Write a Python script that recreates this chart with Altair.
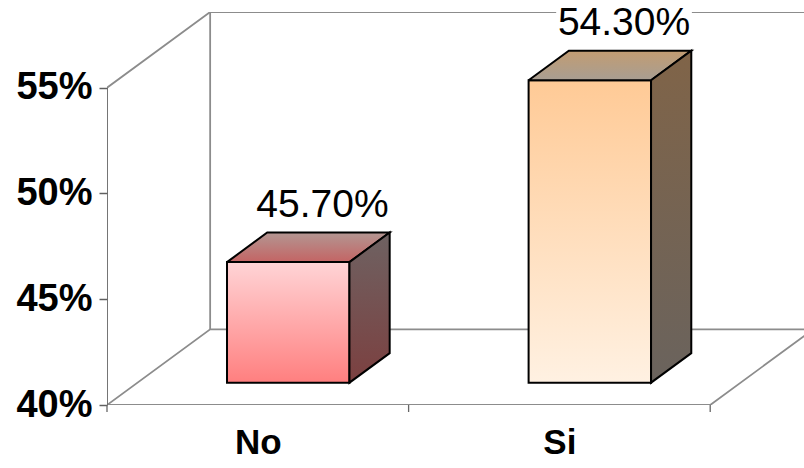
import json
import altair as alt
import pandas as pd

# ---- values ---------------------------------------------------------------
categories = ["No", "Si"]
values = [45.7, 54.3]
value_labels = ["45.70%", "54.30%"]
y_ticks = [40, 45, 50, 55]

# ---- styling ---------------------------------------------------------------
FONT = "Liberation Sans"
face_colors = {
    "No": {"front": ("#FFD4D6", "#FF7F7F"), "top": ("#B39692", "#C46464"), "side": ("#6E6262", "#7C4040")},
    "Si": {"front": ("#FFCA96", "#FFF1E2"), "top": ("#C29C72", "#A89E92"), "side": ("#806448", "#6A635D")},
}

# ---- 3-D geometry (data units) -------------------------------------------
Y_MIN, Y_MAX = 40, 55
DEPTH_X, DEPTH_Y = 0.342, 3.58      # full floor depth, as x / y offsets
FRONT = 0.295                       # depth fraction where the bar fronts stand
BAR_DEPTH = 0.39                    # depth fraction taken by each bar
HALF_W = 0.203                      # half bar width, in category units
X_MAX = 2.311
W, H = 697, 393
PX_Y = H / (Y_MAX + DEPTH_Y - Y_MIN)

x_scale = alt.Scale(domain=[0, X_MAX], nice=False, zero=False)
y_scale = alt.Scale(domain=[Y_MIN, Y_MAX + DEPTH_Y], nice=False, zero=False)

bdx, bdy = BAR_DEPTH * DEPTH_X, BAR_DEPTH * DEPTH_Y
front_rows, face_rows, label_rows = [], [], []
for i, (cat, v, lab) in enumerate(zip(categories, values, value_labels)):
    c = i + 0.5
    x0 = c - HALF_W + FRONT * DEPTH_X
    x1 = c + HALF_W + FRONT * DEPTH_X
    b = Y_MIN + FRONT * DEPTH_Y
    t = v + FRONT * DEPTH_Y
    front_rows.append({"cat": cat, "x0": x0, "x1": x1, "b": b, "t": t})
    top = [(x0, t), (x1, t), (x1 + bdx, t + bdy), (x0 + bdx, t + bdy), (x0, t)]
    side = [(x1, t), (x1, b), (x1 + bdx, b + bdy), (x1 + bdx, t + bdy), (x1, t)]
    for face, pts in [("top", top), ("side", side)]:
        for k, (xx, yy) in enumerate(pts):
            face_rows.append({"cat": cat, "face": face, "k": k, "x": xx, "y": yy})
    # label sits above the top face, near its back edge
    lx = c + FRONT * DEPTH_X + 0.85 * bdx
    ly = t + bdy
    label_rows.append({"cat": cat, "label": lab, "x": lx, "y": ly,
                       "bx0": lx - 0.225, "bx1": lx + 0.225,
                       "by0": ly + 12 / PX_Y, "by1": ly + 46 / PX_Y})

front_df = pd.DataFrame(front_rows)
face_df = pd.DataFrame(face_rows)
label_df = pd.DataFrame(label_rows)

# walls and floor outline
n = len(categories)
segments = {
    "axis": [[(0, Y_MIN), (0, Y_MAX)]],
    "wall": [
        [(0, Y_MAX), (DEPTH_X, Y_MAX + DEPTH_Y), (X_MAX, Y_MAX + DEPTH_Y)],
        [(DEPTH_X, Y_MIN + DEPTH_Y), (DEPTH_X, Y_MAX + DEPTH_Y)],
        [(0, Y_MIN), (DEPTH_X, Y_MIN + DEPTH_Y), (X_MAX, Y_MIN + DEPTH_Y)],
        [(0, Y_MIN), (n, Y_MIN), (n + DEPTH_X, Y_MIN + DEPTH_Y)],
    ],
}
frame_rows = []
for grp, segs in segments.items():
    for s, pts in enumerate(segs):
        for k, (xx, yy) in enumerate(pts):
            frame_rows.append({"grp": grp, "seg": f"{grp}{s}", "k": k, "x": xx, "y": yy})
frame_df = pd.DataFrame(frame_rows)
bound_df = pd.DataFrame({"x": list(range(n + 1)), "y": [Y_MIN] * (n + 1)})

cat_expr = f"{json.dumps(categories)}[floor(datum.value)]"
x_axis = alt.Axis(values=[i + 0.5 for i in range(n)], labelExpr=cat_expr, ticks=False,
                  domain=False, grid=False, title=None, labelFont=FONT, labelFontSize=35,
                  labelFontWeight="bold", labelColor="black", labelBaseline="alphabetic",
                  labelPadding=48)
y_axis = alt.Axis(values=y_ticks, labelExpr="datum.value + '%'", tickSize=8, tickColor="#606060",
                  tickWidth=1.5, domain=False, grid=False, title=None, labelFont=FONT,
                  labelFontSize=38, labelFontWeight="bold", labelColor="black", labelPadding=7)


def X(field):
    return alt.X(field, scale=x_scale, axis=x_axis)


def Y(field):
    return alt.Y(field, scale=y_scale, axis=y_axis)


def grad(top, bottom):
    return alt.Gradient(gradient="linear", x1=0, x2=0, y1=0, y2=1,
                        stops=[alt.GradientStop(color=top, offset=0),
                               alt.GradientStop(color=bottom, offset=1)])


layers = []
for grp, col in [("wall", "#8C8C8C"), ("axis", "#666666")]:
    layers.append(
        alt.Chart(frame_df).transform_filter(alt.datum.grp == grp)
        .mark_line(color=col, strokeWidth=1.8, clip=True)
        .encode(x=X("x:Q"), y=Y("y:Q"), detail="seg:N", order="k:Q")
    )

# category boundary ticks under the floor edge
layers.append(
    alt.Chart(bound_df).mark_rule(color="#666666", strokeWidth=1.3)
    .encode(x=X("x:Q"), y=Y("y:Q"), y2=alt.value(H + 7))
)

for cat in categories:
    fc = face_colors[cat]
    layers.append(
        alt.Chart(front_df).transform_filter(alt.datum.cat == cat)
        .mark_rect(color=grad(*fc["front"]), stroke="black", strokeWidth=2)
        .encode(x=X("x0:Q"), x2="x1:Q", y=Y("t:Q"), y2="b:Q")
    )
    for face in ["top", "side"]:
        layers.append(
            alt.Chart(face_df)
            .transform_filter((alt.datum.cat == cat) & (alt.datum.face == face))
            .mark_line(fill=grad(*fc[face]), fillOpacity=1, stroke="black",
                       strokeWidth=2, strokeJoin="miter")
            .encode(x=X("x:Q"), y=Y("y:Q"), order="k:Q")
        )

# value labels, each on a white patch
layers.append(
    alt.Chart(label_df).mark_rect(color="white")
    .encode(x=X("bx0:Q"), x2="bx1:Q", y=Y("by0:Q"), y2="by1:Q")
)
layers.append(
    alt.Chart(label_df).mark_text(font=FONT, fontSize=39, color="black",
                                  baseline="alphabetic", align="center", dy=-16)
    .encode(x=X("x:Q"), y=Y("y:Q"), text="label:N")
)

chart = (
    alt.layer(*layers)
    .properties(width=W, height=H, background="white",
                padding={"left": 107, "top": 12, "right": 0, "bottom": 63},
                autosize=alt.AutoSizeParams(type="none"))
    .configure_view(stroke=None)
)

chart.save("out.html", embed_options={"renderer": "svg", "actions": False})
